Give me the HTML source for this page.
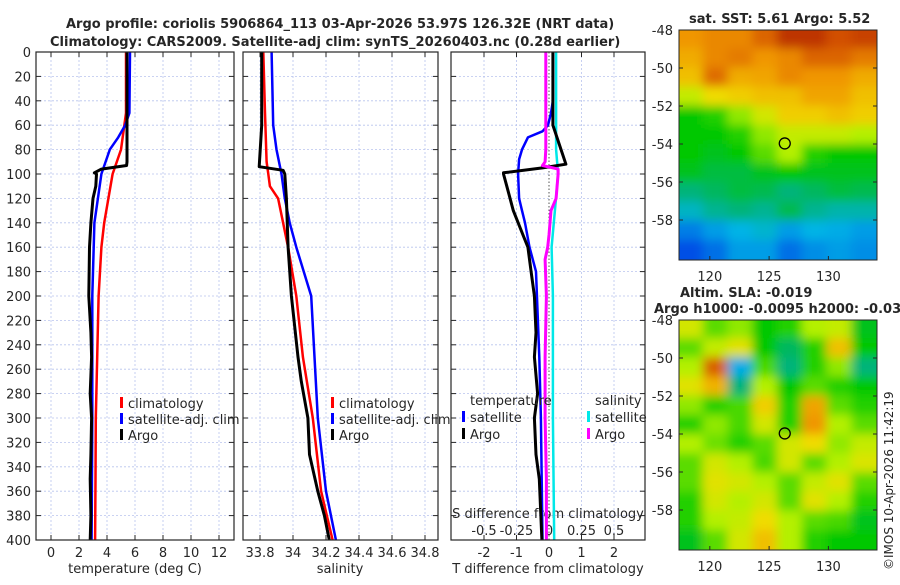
<!DOCTYPE html>
<html><head><meta charset="utf-8">
<style>
body{margin:0;background:#fff;}
svg text{font-family:"DejaVu Sans","Liberation Sans",sans-serif;fill:#262626;}
</style></head>
<body>
<svg id="fig" width="900" height="580" xmlns="http://www.w3.org/2000/svg">
<defs>
<filter id="blur" filterUnits="userSpaceOnUse" x="600" y="0" width="300" height="580"><feGaussianBlur stdDeviation="5"/></filter>
<clipPath id="c1"><rect x="679" y="30" width="198" height="230"/></clipPath>
<clipPath id="c2"><rect x="679" y="320" width="198" height="230"/></clipPath>
</defs>
<text x="66" y="28" font-size="13" font-weight="bold">Argo profile: coriolis 5906864_113 03-Apr-2026 53.97S 126.32E (NRT data)</text>
<text x="50" y="46" font-size="13" font-weight="bold">Climatology: CARS2009. Satellite-adj clim: synTS_20260403.nc (0.28d earlier)</text>
<text x="689" y="23" font-size="13" font-weight="bold">sat. SST: 5.61 Argo: 5.52</text>
<text x="680" y="297" font-size="13" font-weight="bold">Altim. SLA: -0.019</text>
<text x="654" y="313" font-size="13" font-weight="bold">Argo h1000: -0.0095 h2000: -0.03</text>
<text transform="translate(893,570) rotate(-90)" font-size="12">©IMOS 10-Apr-2026 11:42:19</text>
<g id="g"></g>
</svg>
<script>
// ---- data ----
const depthTicks=[0,20,40,60,80,100,120,140,160,180,200,220,240,260,280,300,320,340,360,380,400];
const tempTicks=[0,2,4,6,8,10,12];
const salTicks=[33.8,34,34.2,34.4,34.6,34.8];
const dTTicks=[-2,-1,0,1,2];
const dSTicks=[-0.5,-0.25,0,0.25,0.5];
const tClimD=[0,50,80,100,120,140,160,200,250,300,350,400];
const tClimV=[5.36,5.36,5.0,4.4,4.1,3.8,3.6,3.4,3.3,3.2,3.18,3.15];
const tSatD=[0,50,60,70,80,100,120,140,200,300,400];
const tSatV=[5.64,5.6,5.3,4.8,4.2,3.6,3.35,3.1,2.95,2.95,2.9];
const tArgoD=[0,90,93,96,99,100,110,120,140,160,200,230,250,280,300,330,350,380,400];
const tArgoV=[5.43,5.43,5.4,3.6,3.1,3.25,3.2,3.0,2.85,2.75,2.7,2.85,2.9,2.8,2.9,2.85,2.8,2.85,2.8];
const sClimD=[0,50,90,100,110,120,140,160,200,250,300,360,400];
const sClimV=[33.82,33.83,33.84,33.85,33.86,33.91,33.94,33.97,34.02,34.06,34.12,34.17,34.24];
const sSatD=[0,60,80,100,120,140,160,200,250,300,360,400];
const sSatV=[33.87,33.88,33.9,33.93,33.95,33.98,34.02,34.11,34.13,34.15,34.2,34.26];
const sArgoD=[0,30,60,94,97,100,120,160,200,250,270,300,330,360,380,400];
const sArgoV=[33.81,33.81,33.81,33.795,33.94,33.95,33.96,33.97,33.99,34.03,34.05,34.09,34.1,34.15,34.19,34.22];
const dTSatD=[0,40,50,60,65,70,80,88,100,120,130,140,160,180,250,300,400];
const dTSatV=[0.12,0.12,0.06,-0.03,-0.2,-0.65,-0.83,-0.92,-0.95,-0.92,-0.83,-0.74,-0.6,-0.4,-0.3,-0.25,-0.2];
const dTArgoD=[0,60,92,95,99,100,110,130,150,160,180,200,230,250,280,300,330,350,400];
const dTArgoV=[0.12,0.12,0.52,-0.2,-1.4,-1.4,-1.3,-1.1,-0.8,-0.65,-0.55,-0.45,-0.4,-0.45,-0.35,-0.45,-0.4,-0.3,-0.22];
const dSSatD=[0,80,100,130,160,200,300,400];
const dSSatV=[0.055,0.055,0.07,0.045,0.02,0.03,0.03,0.04];
const dSArgoD=[0,80,90,93,96,100,120,130,150,160,170,200,250,300,350,400];
const dSArgoV=[-0.025,-0.025,-0.03,-0.05,0.07,0.07,0.055,0.015,0,-0.01,-0.03,-0.02,-0.03,-0.03,-0.02,-0.02];
const mapLats=[-48,-50,-52,-54,-56,-58];
const mapLons=[120,125,130];
const sstGrid=[
[0.78,0.8,0.8,0.85,0.92,0.92,0.88,0.9],
[0.75,0.8,0.82,0.78,0.8,0.85,0.85,0.82],
[0.72,0.84,0.75,0.76,0.8,0.78,0.78,0.75],
[0.62,0.68,0.7,0.72,0.72,0.76,0.76,0.72],
[0.5,0.52,0.58,0.64,0.7,0.7,0.72,0.7],
[0.5,0.5,0.52,0.58,0.62,0.62,0.62,0.6],
[0.5,0.48,0.5,0.55,0.6,0.52,0.5,0.5],
[0.48,0.46,0.46,0.48,0.5,0.48,0.48,0.48],
[0.42,0.44,0.46,0.45,0.42,0.44,0.46,0.45],
[0.36,0.4,0.42,0.4,0.45,0.4,0.38,0.38],
[0.26,0.3,0.33,0.35,0.3,0.33,0.32,0.3],
[0.2,0.24,0.3,0.3,0.24,0.28,0.3,0.28]];
const slaGrid=[
[0.64,0.55,0.58,0.5,0.52,0.6,0.62,0.48],
[0.55,0.62,0.66,0.5,0.44,0.52,0.72,0.5],
[0.6,0.86,0.32,0.54,0.42,0.52,0.58,0.42],
[0.66,0.74,0.42,0.6,0.5,0.55,0.52,0.5],
[0.58,0.52,0.54,0.7,0.52,0.76,0.55,0.52],
[0.52,0.58,0.54,0.64,0.52,0.78,0.6,0.55],
[0.6,0.56,0.52,0.55,0.64,0.68,0.58,0.62],
[0.55,0.64,0.6,0.54,0.64,0.55,0.6,0.65],
[0.55,0.66,0.64,0.6,0.55,0.62,0.66,0.55],
[0.52,0.64,0.6,0.64,0.55,0.66,0.6,0.52],
[0.52,0.6,0.62,0.68,0.6,0.55,0.54,0.48],
[0.48,0.55,0.64,0.72,0.6,0.52,0.5,0.5]];
const argoLon=126.32, argoLat=-53.97;

// ---- helpers ----
const NS="http://www.w3.org/2000/svg";
const G=document.getElementById('g');
function el(t,a,p){const e=document.createElementNS(NS,t);for(const k in a)e.setAttribute(k,a[k]);(p||G).appendChild(e);return e;}
const Y0=52,Y1=540;
const yD=d=>Y0+d*(Y1-Y0)/400;
const xT=t=>51+14*t;
const xS=s=>260+(s-33.8)*165;
const xdT=v=>549+v*32.5;
const xdS=v=>549+v*130;
const panels=[[36,234],[243,438],[451,645]];

panels.forEach((p,i)=>{
  depthTicks.forEach(d=>{if(d>0&&d<400){
    const l=el('line',{x1:p[0],x2:p[1],y1:yD(d),y2:yD(d),stroke:'#b8c4ee','stroke-width':0.8,'stroke-dasharray':'2,2'});
    
    
    el('line',{x1:p[0],x2:p[0]+5,y1:yD(d),y2:yD(d),stroke:'#262626'});
    el('line',{x1:p[1]-5,x2:p[1],y1:yD(d),y2:yD(d),stroke:'#262626'});
  }});
});
function vgrid(xs,f,p){xs.forEach(v=>{const x=f(v);if(x>p[0]&&x<p[1]){
  const l=el('line',{x1:x,x2:x,y1:Y0,y2:Y1,stroke:'#b8c4ee','stroke-width':0.8,'stroke-dasharray':'2,2'});
  
  
  el('line',{x1:x,x2:x,y1:Y1-5,y2:Y1,stroke:'#262626'});
  el('line',{x1:x,x2:x,y1:Y0,y2:Y0+5,stroke:'#262626'});
}});}
vgrid(tempTicks,xT,panels[0]);
vgrid(salTicks,xS,panels[1]);
vgrid(dTTicks.filter(v=>v!==0),xdT,panels[2]);
const zl=el('line',{x1:xdT(0),x2:xdT(0),y1:Y0,y2:Y1,stroke:'#555','stroke-width':1,'stroke-dasharray':'1.5,2'});



depthTicks.forEach(d=>{
  const t=el('text',{x:31,y:yD(d)+5,'font-size':13,'text-anchor':'end'});t.textContent=d;
  
  
});
function xlabels(ticks,f,y,fmt){ticks.forEach(v=>{
  const t=el('text',{x:f(v),y:y,'font-size':13,'text-anchor':'middle'});t.textContent=fmt?fmt(v):v;
  
  
});}
xlabels(tempTicks,xT,557);
xlabels(salTicks,xS,557,v=>v.toFixed(1).replace('.0',''));
xlabels(dTTicks,xdT,557);
xlabels(dSTicks,xdS,535);
[[135,'temperature (deg C)','x-axis-title-temperature'],[340,'salinity','x-axis-title-salinity'],[548,'T difference from climatology','x-axis-title-t-diff']].forEach(a=>{
  const t=el('text',{x:a[0],y:573,'font-size':13,'text-anchor':'middle'});t.textContent=a[1];
  
  
});
{const t=el('text',{x:548,y:518,'font-size':13,'text-anchor':'middle'});t.textContent='S difference from climatology';

}

function line(D,V,fx,col,w,name){
  const pts=D.map((d,i)=>fx(V[i]).toFixed(1)+','+yD(d).toFixed(1)).join(' ');
  const p=el('polyline',{points:pts,fill:'none',stroke:col,'stroke-width':w,'stroke-linejoin':'round'});
  
  
}
line(tClimD,tClimV,xT,'#ff0000',2.5,'temp-climatology-line');
line(tSatD,tSatV,xT,'#0000ff',2.5,'temp-satellite-line');
line(tArgoD,tArgoV,xT,'#000',3,'temp-argo-line');
line(sClimD,sClimV,xS,'#ff0000',2.5,'sal-climatology-line');
line(sSatD,sSatV,xS,'#0000ff',2.5,'sal-satellite-line');
line(sArgoD,sArgoV,xS,'#000',3,'sal-argo-line');
line(dSSatD,dSSatV,xdS,'#00e8e8',2.5,'s-diff-satellite-line');
line(dTSatD,dTSatV,xdT,'#0000ff',2.5,'t-diff-satellite-line');
line(dTArgoD,dTArgoV,xdT,'#000',3,'t-diff-argo-line');
line(dSArgoD,dSArgoV,xdS,'#ff00ff',3,'s-diff-argo-line');

panels.forEach(p=>{const r=el('rect',{x:p[0],y:Y0,width:p[1]-p[0],height:Y1-Y0,fill:'none',stroke:'#262626','stroke-width':1.2});

});

function leg(x,y,col,txt,name){
  el('rect',{x:x,y:y-11,width:3,height:11,fill:col});
  const t=el('text',{x:x+8,y:y,'font-size':13});t.textContent=txt;
  
  
}
leg(120,408,'#ff0000','climatology','legend-climatology');
leg(120,424,'#0000ff','satellite-adj. clim','legend-satellite');
leg(120,440,'#000','Argo','legend-argo');
leg(331,408,'#ff0000','climatology','legend-sal-climatology');
leg(331,424,'#0000ff','satellite-adj. clim','legend-sal-satellite');
leg(331,440,'#000','Argo','legend-sal-argo');
{const t=el('text',{x:470,y:405,'font-size':13});t.textContent='temperature';

const s=el('text',{x:595,y:405,'font-size':13});s.textContent='salinity';
}
leg(462,422,'#0000ff','satellite','legend-t-satellite');
leg(462,439,'#000','Argo','legend-t-argo');
leg(587,422,'#00e8e8','satellite','legend-s-satellite');
leg(587,439,'#ff00ff','Argo','legend-s-argo');

const stops=[[0,[0,30,140]],[0.2,[0,80,230]],[0.33,[0,180,230]],[0.43,[0,180,110]],[0.5,[0,200,0]],[0.6,[180,240,0]],[0.68,[240,220,0]],[0.78,[240,150,0]],[0.88,[210,80,0]],[1,[150,0,0]]];
function cmap(v){for(let i=1;i<stops.length;i++){if(v<=stops[i][0]){const a=stops[i-1],b=stops[i],f=(v-a[0])/(b[0]-a[0]);return 'rgb('+a[1].map((c,k)=>Math.round(c+(b[1][k]-c)*f)).join(',')+')';}}return 'rgb(150,0,0)';}
const MX0=679,MX1=877,LON0=117.4,LON1=134.1;
const xLon=l=>MX0+(l-LON0)*(MX1-MX0)/(LON1-LON0);
function drawMap(grid,top,clip,name){
  const g=el('g',{'clip-path':'url(#'+clip+')'});
  
  
  const inner=el('g',{filter:'url(#blur)'},g);
  const nr=grid.length,nc=grid[0].length,cw=(MX1-MX0)/nc,ch=230/nr;
  grid.forEach((row,r)=>row.forEach((v,c)=>{
    const x0=c===0?MX0-20:MX0+c*cw-1, x1=c===nc-1?MX1+20:MX0+(c+1)*cw+1;
    const y0=r===0?top-20:top+r*ch-1, y1=r===nr-1?top+250:top+(r+1)*ch+1;
    const cell=el('rect',{x:x0,y:y0,width:x1-x0,height:y1-y0,fill:cmap(v)},inner);
    
    
  }));
  el('rect',{x:MX0,y:top,width:MX1-MX0,height:230,fill:'none',stroke:'#262626','stroke-width':1});
  mapLats.forEach(l=>{const y=top+(-48-l)*19;
    el('line',{x1:MX0,x2:MX0+4,y1:y,y2:y,stroke:'#262626'});
    el('line',{x1:MX1-4,x2:MX1,y1:y,y2:y,stroke:'#262626'});
    const t=el('text',{x:MX0-6,y:y+5,'font-size':13,'text-anchor':'end'});t.textContent=l;
    });
  mapLons.forEach(l=>{const x=xLon(l);
    el('line',{x1:x,x2:x,y1:top+226,y2:top+230,stroke:'#262626'});
    const t=el('text',{x:x,y:top+251,'font-size':13,'text-anchor':'middle'});t.textContent=l;
    });
  const c=el('circle',{cx:xLon(argoLon),cy:top+(-48-argoLat)*19,r:5.5,fill:'none',stroke:'#000','stroke-width':1.3});
  
  
}
drawMap(sstGrid,30,'c1','sst-map');
drawMap(slaGrid,320,'c2','sla-map');
</script>
</body></html>
